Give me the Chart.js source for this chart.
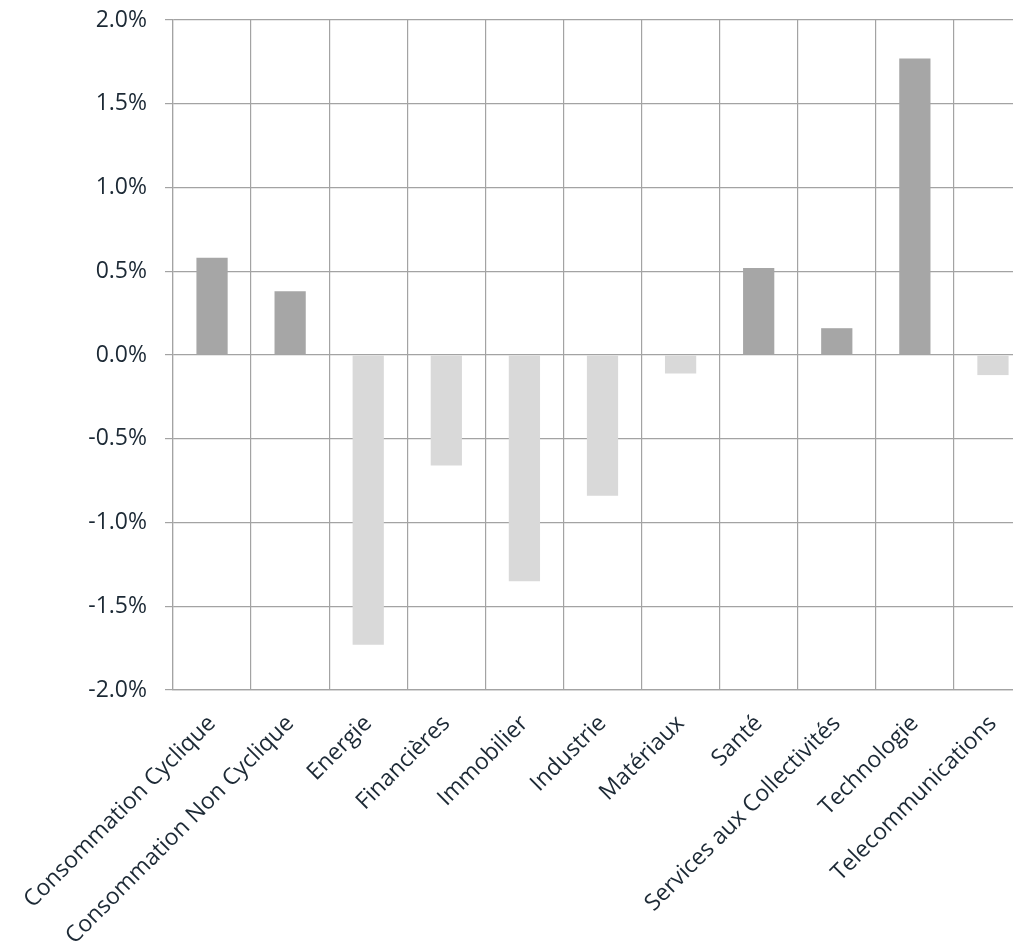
<!DOCTYPE html>
<html>
<head>
<meta charset="utf-8">
<script src="https://cdn.jsdelivr.net/npm/chart.js@4/dist/chart.umd.min.js"></script>
<style>
    html, body { margin: 0; padding: 0; background: #ffffff; overflow: hidden; }
    #zone { position: relative; width: 1032px; height: 951px; }
</style>
</head>
<body>
<div id="zone"><canvas id="grafico-secteurs"></canvas></div>
<script>
// Secteurs et contributions (en %)
const secteurs = [
    'Consommation Cyclique', 'Consommation Non Cyclique', 'Energie', 'Financières',
    'Immobilier', 'Industrie', 'Matériaux', 'Santé', 'Services aux Collectivités',
    'Technologie', 'Telecommunications'
];
const valeurs = [0.58, 0.38, -1.73, -0.66, -1.35, -0.84, -0.11, 0.52, 0.16, 1.77, -0.12];
const graduations = [-2.0, -1.5, -1.0, -0.5, 0.0, 0.5, 1.0, 1.5, 2.0];

const couleurPositive = '#a6a6a6';
const couleurNegative = '#d9d9d9';
const couleurGrille = '#a3a3a3';
const couleurTexte = '#1c2935';
const police = { family: '"Open Sans", "Noto Sans", sans-serif', size: 23 };

const ctx = document.getElementById('grafico-secteurs').getContext('2d');
new Chart(ctx, {
    type: 'bar',
    data: {
        labels: secteurs,
        datasets: [{
            data: valeurs,
            backgroundColor: valeurs.map(v => v >= 0 ? couleurPositive : couleurNegative),
            barPercentage: 0.4,
            categoryPercentage: 1
        }]
    },
    options: {
        responsive: true,
        maintainAspectRatio: false,
        animation: false,
        layout: { padding: { top: 20, left: 0, right: 0, bottom: 0 } },
        plugins: { legend: { display: false }, tooltip: { enabled: false } },
        scales: {
            x: {
                grid: { color: couleurGrille, lineWidth: 1.2, offset: true, drawTicks: false },
                border: { color: couleurGrille, width: 1.2 },
                ticks: { font: police, color: couleurTexte, minRotation: 45, maxRotation: 45, padding: 20, autoSkip: false },
                afterFit: s => { s.height = 261; s.paddingLeft = 0; s.paddingRight = 0; }
            },
            y: {
                min: -2, max: 2,
                grid: { color: couleurGrille, lineWidth: 1.2, tickLength: 8 },
                border: { color: couleurGrille, width: 1.2 },
                afterBuildTicks: s => { s.ticks = graduations.map(v => ({ value: v })); },
                ticks: { font: police, color: couleurTexte, padding: 18, callback: v => v.toFixed(1) + '%' },
                afterFit: s => { s.width = 173; s.paddingTop = 0; s.paddingBottom = 0; }
            }
        }
    }
});
</script>
</body>
</html>
